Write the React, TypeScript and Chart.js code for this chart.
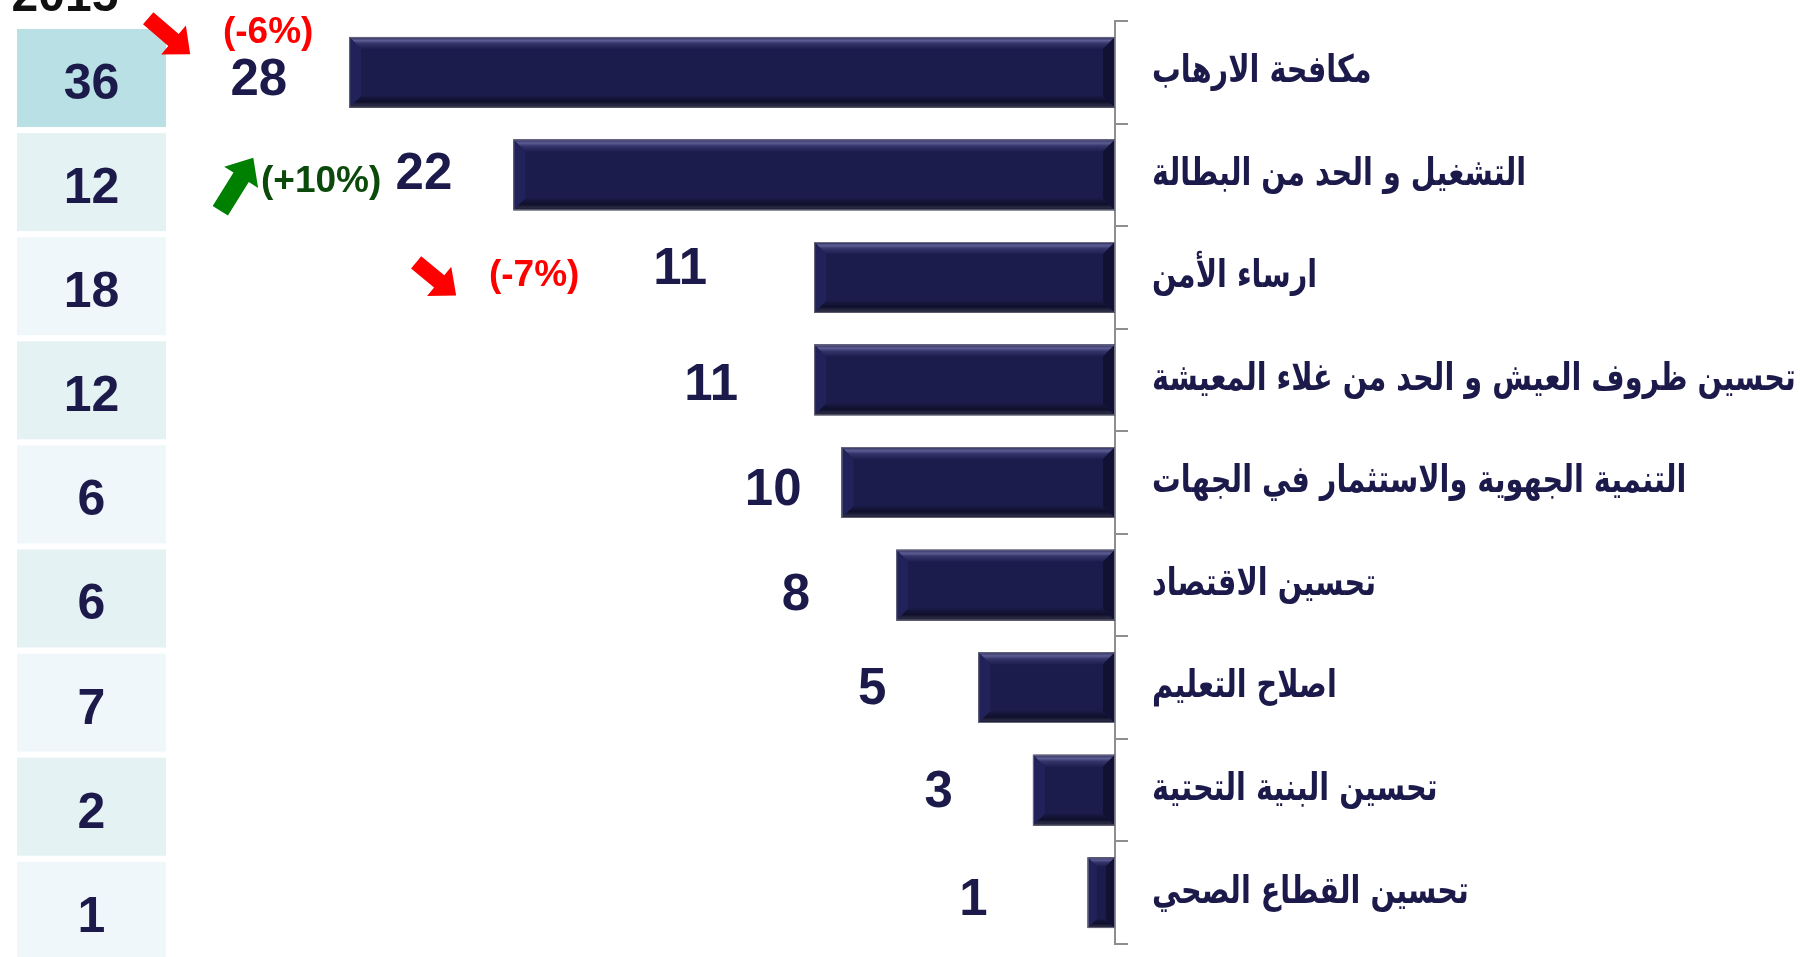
import React, { useEffect, useRef } from "react";
import { Chart, registerables } from "chart.js";

Chart.register(...registerables);

// ---------------- DATA ----------------
const categories = [
  "مكافحة الارهاب",
  "التشغيل و الحد من البطالة",
  "ارساء الأمن",
  "تحسين ظروف العيش و الحد من غلاء المعيشة",
  "التنمية الجهوية والاستثمار في الجهات",
  "تحسين الاقتصاد",
  "اصلاح التعليم",
  "تحسين البنية التحتية",
  "تحسين القطاع الصحي",
];
const values = [28, 22, 11, 11, 10, 8, 5, 3, 1];
const previousYear = "2015";
const previousValues = [36, 12, 18, 12, 6, 6, 7, 2, 1];
const changeLabels = ["(-6%)", "(+10%)", "(-7%)", "", "", "", "", "", ""];

// ---------------- STYLE ----------------
const NAVY = "#1b1a4a";
const AXIS_GRAY = "#8e8e8e";
const DIGIT_FONT = '"Liberation Sans", Arial, sans-serif';
const ARABIC_FONT = '"DejaVu Sans", sans-serif';
const LABEL_X_PAD = 37; // distance from axis line to start of category text
const LABEL_STRETCH = 1.32; // vertical stretch to approximate the reference Arabic face
// value-label placement relative to bar end (gap to the left, vertical nudge)
const labelGap = [62, 61, 107, 76, 40, 86, 92, 80, 100];
const labelNudge = [4, -4, -12, 2, 4, 7, -2, -1, 4];
// annotation placement relative to the value label anchor (right edge, centre)
const annotStyle: any[] = [
  { align: "center", tx: -19, ty: -43, tail: [-139, -58], tip: [-97, -22], shaft: 16, head: 38, headL: 22, text: "#ff0000", arrow: "#ff0000" },
  { align: "right", tx: -71, ty: 12, tail: [-232, 40], tip: [-199, -13], shaft: 18, head: 40, headL: 23, text: "#0b4a0b", arrow: "#008000" },
  { align: "center", tx: -173, ty: 11, tail: [-291, -3], tip: [-251, 30], shaft: 16, head: 38, headL: 22, text: "#ff0000", arrow: "#ff0000" },
];
const BOX = { left: 17, width: 149, top: 29, pitch: 104.1, height: 98 };
const boxColors = ["#b9e0e4", "#e5f2f4", "#f0f7fa"];

function drawArrow(ctx: CanvasRenderingContext2D, x1: number, y1: number, x2: number, y2: number, shaftW: number, headW: number, headL: number, color: string) {
  const dx = x2 - x1, dy = y2 - y1;
  const len = Math.hypot(dx, dy);
  const ux = dx / len, uy = dy / len;
  const px = -uy, py = ux;
  const bx = x2 - ux * headL, by = y2 - uy * headL;
  ctx.save();
  ctx.fillStyle = color;
  ctx.beginPath();
  ctx.moveTo(x1 + (px * shaftW) / 2, y1 + (py * shaftW) / 2);
  ctx.lineTo(bx + (px * shaftW) / 2, by + (py * shaftW) / 2);
  ctx.lineTo(bx + (px * headW) / 2, by + (py * headW) / 2);
  ctx.lineTo(x2, y2);
  ctx.lineTo(bx - (px * headW) / 2, by - (py * headW) / 2);
  ctx.lineTo(bx - (px * shaftW) / 2, by - (py * shaftW) / 2);
  ctx.lineTo(x1 - (px * shaftW) / 2, y1 - (py * shaftW) / 2);
  ctx.closePath();
  ctx.fill();
  ctx.restore();
}

const bevelPlugin = {
  id: "bevel",
  afterDatasetsDraw(chart: any) {
    const ctx: CanvasRenderingContext2D = chart.ctx;
    const meta = chart.getDatasetMeta(0);
    meta.data.forEach((bar: any) => {
      const { x, y, base, height } = bar.getProps(["x", "y", "base", "height"], true);
      const L = Math.min(x, base), R = Math.max(x, base);
      const T = y - height / 2, B = y + height / 2;
      const b = Math.min(12, (R - L) / 3, height / 3);
      ctx.save();
      let g = ctx.createLinearGradient(0, T, 0, T + b);
      g.addColorStop(0, "#2a2a5c");
      g.addColorStop(0.3, "#5d5d93");
      g.addColorStop(0.55, "#34346a");
      g.addColorStop(1, "#1e1e50");
      ctx.fillStyle = g;
      ctx.beginPath();
      ctx.moveTo(L, T); ctx.lineTo(R, T); ctx.lineTo(R - b, T + b); ctx.lineTo(L + b, T + b); ctx.closePath();
      ctx.fill();
      g = ctx.createLinearGradient(0, B - b, 0, B);
      g.addColorStop(0, "#1a1a46");
      g.addColorStop(0.5, "#0f0f2c");
      g.addColorStop(0.8, "#2a2a44");
      g.addColorStop(1, "#0c0c20");
      ctx.fillStyle = g;
      ctx.beginPath();
      ctx.moveTo(L, B); ctx.lineTo(R, B); ctx.lineTo(R - b, B - b); ctx.lineTo(L + b, B - b); ctx.closePath();
      ctx.fill();
      ctx.fillStyle = "#22225a";
      ctx.beginPath();
      ctx.moveTo(L, T); ctx.lineTo(L + b, T + b); ctx.lineTo(L + b, B - b); ctx.lineTo(L, B); ctx.closePath();
      ctx.fill();
      ctx.fillStyle = "#111133";
      ctx.beginPath();
      ctx.moveTo(R, T); ctx.lineTo(R - b, T + b); ctx.lineTo(R - b, B - b); ctx.lineTo(R, B); ctx.closePath();
      ctx.fill();
      ctx.strokeStyle = "#6d6d7f";
      ctx.lineWidth = 1;
      ctx.strokeRect(L + 0.5, T + 0.5, R - L - 1, B - T - 1);
      ctx.restore();
    });
  },
};

function makeOverlay(labelSize: number) {
  return {
    id: "overlay",
    afterDraw(chart: any) {
      const ctx: CanvasRenderingContext2D = chart.ctx;
      const yScale = chart.scales.y;
      ctx.save();

      // category labels (right of the axis)
      ctx.fillStyle = NAVY;
      ctx.font = `bold ${labelSize}px ${ARABIC_FONT}`;
      ctx.textAlign = "left";
      ctx.textBaseline = "middle";
      categories.forEach((c, i) => {
        const yy = yScale.getPixelForValue(i);
        ctx.save();
        ctx.translate(yScale.left + LABEL_X_PAD, yy);
        ctx.scale(1, LABEL_STRETCH);
        ctx.fillText(c, 0, 0);
        ctx.restore();
      });

      // previous-year table
      ctx.textBaseline = "alphabetic";
      ctx.font = `bold 48px ${DIGIT_FONT}`;
      ctx.fillStyle = "#111111";
      ctx.textAlign = "center";
      ctx.fillText(previousYear, 65, 11);
      previousValues.forEach((v, i) => {
        const top = BOX.top + i * BOX.pitch;
        ctx.fillStyle = i === 0 ? boxColors[0] : boxColors[i % 2 === 1 ? 1 : 2];
        ctx.fillRect(BOX.left, top, BOX.width, BOX.height);
        ctx.fillStyle = NAVY;
        ctx.font = `bold 50px ${DIGIT_FONT}`;
        ctx.textAlign = "center";
        ctx.fillText(String(v), BOX.left + BOX.width / 2, top + BOX.height / 2 + 3 + 0.358 * 50);
      });

      // value labels + change annotations
      const meta = chart.getDatasetMeta(0);
      meta.data.forEach((bar: any, i: number) => {
        const { x, y } = bar.getProps(["x", "y"], true);
        const xr = x - labelGap[i];
        const yc = y + labelNudge[i];
        ctx.font = `bold 51px ${DIGIT_FONT}`;
        ctx.fillStyle = NAVY;
        ctx.textAlign = "right";
        ctx.fillText(String(values[i]), xr, yc + 0.358 * 51);
        const a = annotStyle[i];
        if (changeLabels[i] && a) {
          ctx.font = `bold 37px ${DIGIT_FONT}`;
          ctx.fillStyle = a.text;
          ctx.textAlign = a.align;
          ctx.fillText(changeLabels[i], xr + a.tx, yc + a.ty + 0.26 * 37);
          drawArrow(ctx, xr + a.tail[0], yc + a.tail[1], xr + a.tip[0], yc + a.tip[1], a.shaft, a.head, a.headL, a.arrow);
        }
      });
      ctx.restore();
    },
  };
}

export default function App() {
  const ref = useRef<HTMLCanvasElement | null>(null);

  useEffect(() => {
    const canvas = ref.current;
    if (!canvas) return;
    const m = document.createElement("canvas").getContext("2d")!;
    m.font = `bold 30px ${ARABIC_FONT}`;
    const widest = Math.max(...categories.map((c) => m.measureText(c).width));
    const labelSize = Math.max(20, Math.min(32, (30 * 644) / widest));

    const chart = new Chart(canvas, {
      type: "bar",
      data: {
        labels: categories,
        datasets: [
          {
            data: values,
            backgroundColor: "#1c1c4c",
            borderWidth: 0,
            categoryPercentage: 0.69,
            barPercentage: 1,
          },
        ],
      },
      options: {
        indexAxis: "y",
        animation: false,
        responsive: false,
        devicePixelRatio: 1,
        layout: { padding: { left: 21, top: 21, bottom: 13, right: 0 } },
        plugins: { legend: { display: false }, tooltip: { enabled: false } },
        scales: {
          x: { display: false, reverse: true, min: 0, max: 40 },
          y: {
            position: "right",
            z: 1,
            grid: {
              display: true,
              drawOnChartArea: false,
              drawTicks: true,
              tickLength: 13,
              color: AXIS_GRAY,
              lineWidth: 2,
              offset: true,
            },
            border: { display: true, color: AXIS_GRAY, width: 2 },
            ticks: { display: false },
            afterFit(scale: any) {
              scale.width = 685;
              scale.paddingTop = 0;
              scale.paddingBottom = 0;
            },
          },
        },
      } as any,
      plugins: [bevelPlugin, makeOverlay(labelSize)],
    });
    return () => chart.destroy();
  }, []);

  return (
    <div style={{ position: "absolute", left: 0, top: 0, width: 1800, height: 957, background: "#ffffff" }}>
      <canvas ref={ref} width={1800} height={957} style={{ display: "block" }} />
    </div>
  );
}
